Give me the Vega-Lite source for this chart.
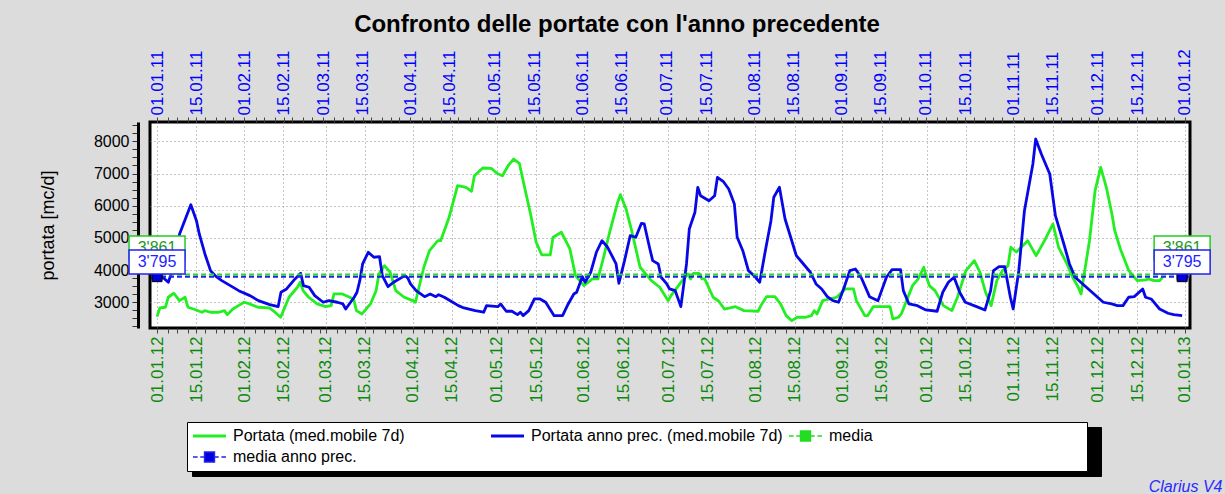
{
  "$schema": "https://vega.github.io/schema/vega-lite/v6.json",
  "width": 1040,
  "height": 206,
  "autosize": {"type": "none"},
  "padding": {"left": 150, "top": 122, "right": 35, "bottom": 166},
  "background": "#dcdcdc",
  "config": {
    "view": {"fill": "white", "stroke": "black", "strokeWidth": 3},
    "font": "Liberation Sans"
  },
  "title": {
    "text": "Confronto delle portate con l'anno precedente",
    "font": "Liberation Sans",
    "fontSize": 24,
    "fontWeight": "bold",
    "color": "black",
    "anchor": "middle",
    "dx": -53,
    "offset": 12
  },
  "datasets": {
    "anno": [
      {"date": "2012-01-01", "value": 2553}, {"date": "2012-01-02", "value": 2823}, {"date": "2012-01-04", "value": 2845}, {"date": "2012-01-05", "value": 3155},
      {"date": "2012-01-07", "value": 3280}, {"date": "2012-01-09", "value": 3050}, {"date": "2012-01-11", "value": 3155}, {"date": "2012-01-12", "value": 2845},
      {"date": "2012-01-14", "value": 2790}, {"date": "2012-01-17", "value": 2690}, {"date": "2012-01-18", "value": 2740}, {"date": "2012-01-20", "value": 2690},
      {"date": "2012-01-23", "value": 2690}, {"date": "2012-01-25", "value": 2740}, {"date": "2012-01-26", "value": 2615}, {"date": "2012-01-28", "value": 2790},
      {"date": "2012-01-30", "value": 2895}, {"date": "2012-02-01", "value": 3000}, {"date": "2012-02-03", "value": 2947}, {"date": "2012-02-06", "value": 2845},
      {"date": "2012-02-10", "value": 2823}, {"date": "2012-02-12", "value": 2690}, {"date": "2012-02-14", "value": 2534}, {"date": "2012-02-15", "value": 2740},
      {"date": "2012-02-17", "value": 3155}, {"date": "2012-02-20", "value": 3466}, {"date": "2012-02-21", "value": 3621}, {"date": "2012-02-22", "value": 3360},
      {"date": "2012-02-24", "value": 3155}, {"date": "2012-02-27", "value": 2947}, {"date": "2012-03-01", "value": 2863}, {"date": "2012-03-03", "value": 2895},
      {"date": "2012-03-04", "value": 3258}, {"date": "2012-03-07", "value": 3258}, {"date": "2012-03-11", "value": 3102}, {"date": "2012-03-12", "value": 2740},
      {"date": "2012-03-14", "value": 2637}, {"date": "2012-03-17", "value": 2947}, {"date": "2012-03-19", "value": 3360}, {"date": "2012-03-20", "value": 3879},
      {"date": "2012-03-22", "value": 4137}, {"date": "2012-03-24", "value": 3932}, {"date": "2012-03-26", "value": 3360}, {"date": "2012-03-29", "value": 3155},
      {"date": "2012-04-01", "value": 3050}, {"date": "2012-04-02", "value": 3000}, {"date": "2012-04-05", "value": 4087}, {"date": "2012-04-07", "value": 4602},
      {"date": "2012-04-10", "value": 4913}, {"date": "2012-04-11", "value": 4913}, {"date": "2012-04-14", "value": 5640}, {"date": "2012-04-17", "value": 6621},
      {"date": "2012-04-20", "value": 6571}, {"date": "2012-04-22", "value": 6447}, {"date": "2012-04-23", "value": 6932}, {"date": "2012-04-26", "value": 7171},
      {"date": "2012-04-29", "value": 7161}, {"date": "2012-05-01", "value": 7006}, {"date": "2012-05-03", "value": 6932}, {"date": "2012-05-05", "value": 7242},
      {"date": "2012-05-07", "value": 7450}, {"date": "2012-05-09", "value": 7317}, {"date": "2012-05-11", "value": 6519}, {"date": "2012-05-13", "value": 5742},
      {"date": "2012-05-15", "value": 4863}, {"date": "2012-05-17", "value": 4469}, {"date": "2012-05-20", "value": 4469}, {"date": "2012-05-21", "value": 5019},
      {"date": "2012-05-24", "value": 5174}, {"date": "2012-05-27", "value": 4655}, {"date": "2012-05-29", "value": 3826}, {"date": "2012-06-01", "value": 3516},
      {"date": "2012-06-04", "value": 3724}, {"date": "2012-06-06", "value": 3724}, {"date": "2012-06-08", "value": 4398}, {"date": "2012-06-10", "value": 5121},
      {"date": "2012-06-13", "value": 6106}, {"date": "2012-06-14", "value": 6342}, {"date": "2012-06-16", "value": 5898}, {"date": "2012-06-18", "value": 5224},
      {"date": "2012-06-21", "value": 4087}, {"date": "2012-06-25", "value": 3671}, {"date": "2012-06-28", "value": 3466}, {"date": "2012-07-01", "value": 3050},
      {"date": "2012-07-02", "value": 3205}, {"date": "2012-07-06", "value": 3671}, {"date": "2012-07-08", "value": 3879}, {"date": "2012-07-09", "value": 3724},
      {"date": "2012-07-10", "value": 3900}, {"date": "2012-07-12", "value": 3900}, {"date": "2012-07-13", "value": 3724}, {"date": "2012-07-14", "value": 3724},
      {"date": "2012-07-17", "value": 3155}, {"date": "2012-07-19", "value": 3031}, {"date": "2012-07-21", "value": 2790}, {"date": "2012-07-23", "value": 2823},
      {"date": "2012-07-25", "value": 2863}, {"date": "2012-07-28", "value": 2740}, {"date": "2012-08-02", "value": 2720}, {"date": "2012-08-03", "value": 2895},
      {"date": "2012-08-05", "value": 3174}, {"date": "2012-08-08", "value": 3174}, {"date": "2012-08-10", "value": 2947}, {"date": "2012-08-12", "value": 2584},
      {"date": "2012-08-14", "value": 2429}, {"date": "2012-08-16", "value": 2534}, {"date": "2012-08-19", "value": 2534}, {"date": "2012-08-21", "value": 2584},
      {"date": "2012-08-22", "value": 2740}, {"date": "2012-08-23", "value": 2637}, {"date": "2012-08-25", "value": 3050}, {"date": "2012-08-30", "value": 3155},
      {"date": "2012-09-02", "value": 3413}, {"date": "2012-09-05", "value": 3413}, {"date": "2012-09-06", "value": 3050}, {"date": "2012-09-09", "value": 2584},
      {"date": "2012-09-10", "value": 2584}, {"date": "2012-09-12", "value": 2863}, {"date": "2012-09-18", "value": 2863}, {"date": "2012-09-19", "value": 2481},
      {"date": "2012-09-21", "value": 2534}, {"date": "2012-09-22", "value": 2637}, {"date": "2012-09-26", "value": 3516}, {"date": "2012-09-28", "value": 3724},
      {"date": "2012-09-30", "value": 4087}, {"date": "2012-10-01", "value": 3776}, {"date": "2012-10-02", "value": 3516}, {"date": "2012-10-04", "value": 3360},
      {"date": "2012-10-07", "value": 2895}, {"date": "2012-10-10", "value": 2740}, {"date": "2012-10-12", "value": 3155}, {"date": "2012-10-15", "value": 3981},
      {"date": "2012-10-18", "value": 4292}, {"date": "2012-10-20", "value": 3932}, {"date": "2012-10-22", "value": 3311}, {"date": "2012-10-24", "value": 2895},
      {"date": "2012-10-26", "value": 3671}, {"date": "2012-10-28", "value": 3981}, {"date": "2012-10-30", "value": 4137}, {"date": "2012-10-31", "value": 4708},
      {"date": "2012-11-02", "value": 4562}, {"date": "2012-11-06", "value": 4913}, {"date": "2012-11-09", "value": 4447}, {"date": "2012-11-12", "value": 4913},
      {"date": "2012-11-15", "value": 5432}, {"date": "2012-11-17", "value": 4708}, {"date": "2012-11-20", "value": 4190}, {"date": "2012-11-22", "value": 3776},
      {"date": "2012-11-24", "value": 3466}, {"date": "2012-11-25", "value": 3258}, {"date": "2012-11-28", "value": 4913}, {"date": "2012-11-30", "value": 6466},
      {"date": "2012-12-02", "value": 7192}, {"date": "2012-12-04", "value": 6571}, {"date": "2012-12-06", "value": 5742}, {"date": "2012-12-07", "value": 5224},
      {"date": "2012-12-09", "value": 4655}, {"date": "2012-12-12", "value": 3981}, {"date": "2012-12-15", "value": 3671}, {"date": "2012-12-18", "value": 3694},
      {"date": "2012-12-19", "value": 3724}, {"date": "2012-12-21", "value": 3671}, {"date": "2012-12-23", "value": 3671}, {"date": "2012-12-24", "value": 3776}
    ],
    "prec": [
      {"date": "2011-01-01", "value": 3780}, {"date": "2011-01-03", "value": 3776}, {"date": "2011-01-05", "value": 3621}, {"date": "2011-01-06", "value": 3879},
      {"date": "2011-01-09", "value": 5121}, {"date": "2011-01-13", "value": 6031}, {"date": "2011-01-15", "value": 5534}, {"date": "2011-01-16", "value": 5121},
      {"date": "2011-01-18", "value": 4500}, {"date": "2011-01-20", "value": 3981}, {"date": "2011-01-22", "value": 3795}, {"date": "2011-01-24", "value": 3671},
      {"date": "2011-01-27", "value": 3516}, {"date": "2011-01-30", "value": 3360}, {"date": "2011-02-03", "value": 3205}, {"date": "2011-02-06", "value": 3050},
      {"date": "2011-02-10", "value": 2925}, {"date": "2011-02-13", "value": 2863}, {"date": "2011-02-14", "value": 3311}, {"date": "2011-02-16", "value": 3413},
      {"date": "2011-02-19", "value": 3724}, {"date": "2011-02-21", "value": 3900}, {"date": "2011-02-22", "value": 3516}, {"date": "2011-02-24", "value": 3466},
      {"date": "2011-02-26", "value": 3205}, {"date": "2011-03-01", "value": 3000}, {"date": "2011-03-03", "value": 3050}, {"date": "2011-03-06", "value": 3000},
      {"date": "2011-03-08", "value": 2947}, {"date": "2011-03-09", "value": 2790}, {"date": "2011-03-12", "value": 3155}, {"date": "2011-03-13", "value": 3311},
      {"date": "2011-03-14", "value": 3671}, {"date": "2011-03-15", "value": 4190}, {"date": "2011-03-17", "value": 4553}, {"date": "2011-03-19", "value": 4398},
      {"date": "2011-03-21", "value": 4416}, {"date": "2011-03-22", "value": 3826}, {"date": "2011-03-24", "value": 3484}, {"date": "2011-03-26", "value": 3621},
      {"date": "2011-03-30", "value": 3826}, {"date": "2011-03-31", "value": 3755}, {"date": "2011-04-01", "value": 3568}, {"date": "2011-04-03", "value": 3360},
      {"date": "2011-04-06", "value": 3174}, {"date": "2011-04-08", "value": 3258}, {"date": "2011-04-10", "value": 3174}, {"date": "2011-04-11", "value": 3236},
      {"date": "2011-04-13", "value": 3155}, {"date": "2011-04-16", "value": 3000}, {"date": "2011-04-18", "value": 2895}, {"date": "2011-04-20", "value": 2823},
      {"date": "2011-04-24", "value": 2740}, {"date": "2011-04-27", "value": 2690}, {"date": "2011-04-28", "value": 2895}, {"date": "2011-05-02", "value": 2863},
      {"date": "2011-05-03", "value": 2947}, {"date": "2011-05-05", "value": 2720}, {"date": "2011-05-07", "value": 2720}, {"date": "2011-05-09", "value": 2615},
      {"date": "2011-05-10", "value": 2690}, {"date": "2011-05-11", "value": 2584}, {"date": "2011-05-13", "value": 2740}, {"date": "2011-05-15", "value": 3102},
      {"date": "2011-05-17", "value": 3102}, {"date": "2011-05-19", "value": 3000}, {"date": "2011-05-22", "value": 2584}, {"date": "2011-05-25", "value": 2584},
      {"date": "2011-05-27", "value": 2947}, {"date": "2011-05-29", "value": 3258}, {"date": "2011-05-30", "value": 3311}, {"date": "2011-06-01", "value": 3795},
      {"date": "2011-06-02", "value": 3621}, {"date": "2011-06-04", "value": 3932}, {"date": "2011-06-06", "value": 4553}, {"date": "2011-06-08", "value": 4913},
      {"date": "2011-06-10", "value": 4708}, {"date": "2011-06-13", "value": 4190}, {"date": "2011-06-14", "value": 3590}, {"date": "2011-06-16", "value": 4292},
      {"date": "2011-06-18", "value": 5068}, {"date": "2011-06-20", "value": 5019}, {"date": "2011-06-22", "value": 5453}, {"date": "2011-06-23", "value": 5432},
      {"date": "2011-06-25", "value": 4655}, {"date": "2011-06-26", "value": 4292}, {"date": "2011-06-28", "value": 4190}, {"date": "2011-06-29", "value": 3776},
      {"date": "2011-07-01", "value": 3568}, {"date": "2011-07-02", "value": 3413}, {"date": "2011-07-04", "value": 3360}, {"date": "2011-07-06", "value": 2863},
      {"date": "2011-07-08", "value": 4190}, {"date": "2011-07-09", "value": 5276}, {"date": "2011-07-11", "value": 5795}, {"date": "2011-07-12", "value": 6571},
      {"date": "2011-07-13", "value": 6311}, {"date": "2011-07-16", "value": 6155}, {"date": "2011-07-18", "value": 6311}, {"date": "2011-07-19", "value": 6882},
      {"date": "2011-07-21", "value": 6758}, {"date": "2011-07-23", "value": 6519}, {"date": "2011-07-25", "value": 6053}, {"date": "2011-07-26", "value": 5019},
      {"date": "2011-07-28", "value": 4602}, {"date": "2011-07-30", "value": 3981}, {"date": "2011-08-01", "value": 3826}, {"date": "2011-08-03", "value": 3621},
      {"date": "2011-08-05", "value": 4602}, {"date": "2011-08-07", "value": 5534}, {"date": "2011-08-08", "value": 6261}, {"date": "2011-08-10", "value": 6571},
      {"date": "2011-08-12", "value": 5587}, {"date": "2011-08-14", "value": 5019}, {"date": "2011-08-16", "value": 4447}, {"date": "2011-08-18", "value": 4242},
      {"date": "2011-08-21", "value": 3932}, {"date": "2011-08-23", "value": 3568}, {"date": "2011-08-25", "value": 3413}, {"date": "2011-08-27", "value": 3174},
      {"date": "2011-08-29", "value": 3050}, {"date": "2011-08-31", "value": 3000}, {"date": "2011-09-02", "value": 3466}, {"date": "2011-09-04", "value": 3981},
      {"date": "2011-09-06", "value": 4034}, {"date": "2011-09-08", "value": 3776}, {"date": "2011-09-11", "value": 3174}, {"date": "2011-09-14", "value": 3050},
      {"date": "2011-09-17", "value": 3776}, {"date": "2011-09-19", "value": 4012}, {"date": "2011-09-22", "value": 4012}, {"date": "2011-09-23", "value": 3360},
      {"date": "2011-09-25", "value": 2947}, {"date": "2011-09-28", "value": 2895}, {"date": "2011-10-01", "value": 2761}, {"date": "2011-10-05", "value": 2720},
      {"date": "2011-10-07", "value": 3311}, {"date": "2011-10-09", "value": 3621}, {"date": "2011-10-11", "value": 3776}, {"date": "2011-10-13", "value": 3311},
      {"date": "2011-10-15", "value": 3000}, {"date": "2011-10-19", "value": 2863}, {"date": "2011-10-22", "value": 2761}, {"date": "2011-10-24", "value": 3360},
      {"date": "2011-10-25", "value": 3981}, {"date": "2011-10-27", "value": 4106}, {"date": "2011-10-29", "value": 4106}, {"date": "2011-10-31", "value": 3155},
      {"date": "2011-11-01", "value": 2790}, {"date": "2011-11-03", "value": 3981}, {"date": "2011-11-05", "value": 5845}, {"date": "2011-11-08", "value": 7295},
      {"date": "2011-11-09", "value": 8071}, {"date": "2011-11-11", "value": 7605}, {"date": "2011-11-14", "value": 6984}, {"date": "2011-11-16", "value": 5689},
      {"date": "2011-11-19", "value": 4810}, {"date": "2011-11-21", "value": 4190}, {"date": "2011-11-23", "value": 3776}, {"date": "2011-11-27", "value": 3466},
      {"date": "2011-12-01", "value": 3155}, {"date": "2011-12-03", "value": 3000}, {"date": "2011-12-06", "value": 2947}, {"date": "2011-12-08", "value": 2895},
      {"date": "2011-12-10", "value": 2895}, {"date": "2011-12-12", "value": 3155}, {"date": "2011-12-14", "value": 3174}, {"date": "2011-12-17", "value": 3413},
      {"date": "2011-12-18", "value": 3155}, {"date": "2011-12-20", "value": 3102}, {"date": "2011-12-23", "value": 2790}, {"date": "2011-12-26", "value": 2658},
      {"date": "2011-12-28", "value": 2615}, {"date": "2011-12-31", "value": 2584}
    ],
    "medie": [
      {"serie": "media", "valore": 3861},
      {"serie": "media anno prec.", "valore": 3795}
    ],
    "marcatori": [
      {"serie": "media", "date": "2011-01-01", "valore": 3861, "etichetta": "3'861"},
      {"serie": "media", "date": "2011-12-31", "valore": 3861, "etichetta": "3'861"},
      {"serie": "media anno prec.", "date": "2011-01-01", "valore": 3795, "etichetta": "3'795"},
      {"serie": "media anno prec.", "date": "2011-12-31", "valore": 3795, "etichetta": "3'795"}
    ]
  },
  "layer": [
    {
      "data": {"name": "anno"},
      "mark": {"type": "line", "strokeWidth": 2.8, "strokeJoin": "round"},
      "encoding": {
        "x": {
          "field": "date", "type": "temporal",
          "scale": {"domain": [{"year": 2011, "month": 12, "date": 29, "hours": 12}, {"year": 2013, "month": 1, "date": 2, "hours": 19}], "nice": false},
          "axis": {
            "orient": "bottom",
            "tickCount": 300,
            "values": [
              {"year":2012,"month":1,"date":1},{"year":2012,"month":1,"date":5},{"year":2012,"month":1,"date":8},{"year":2012,"month":1,"date":12},{"year":2012,"month":1,"date":15},{"year":2012,"month":1,"date":18},{"year":2012,"month":1,"date":22},{"year":2012,"month":1,"date":25},{"year":2012,"month":1,"date":28},
              {"year":2012,"month":2,"date":1},{"year":2012,"month":2,"date":5},{"year":2012,"month":2,"date":8},{"year":2012,"month":2,"date":12},{"year":2012,"month":2,"date":15},{"year":2012,"month":2,"date":18},{"year":2012,"month":2,"date":22},{"year":2012,"month":2,"date":25},{"year":2012,"month":2,"date":28},
              {"year":2012,"month":3,"date":1},{"year":2012,"month":3,"date":5},{"year":2012,"month":3,"date":8},{"year":2012,"month":3,"date":12},{"year":2012,"month":3,"date":15},{"year":2012,"month":3,"date":18},{"year":2012,"month":3,"date":22},{"year":2012,"month":3,"date":25},{"year":2012,"month":3,"date":28},
              {"year":2012,"month":4,"date":1},{"year":2012,"month":4,"date":5},{"year":2012,"month":4,"date":8},{"year":2012,"month":4,"date":12},{"year":2012,"month":4,"date":15},{"year":2012,"month":4,"date":18},{"year":2012,"month":4,"date":22},{"year":2012,"month":4,"date":25},{"year":2012,"month":4,"date":28},
              {"year":2012,"month":5,"date":1},{"year":2012,"month":5,"date":5},{"year":2012,"month":5,"date":8},{"year":2012,"month":5,"date":12},{"year":2012,"month":5,"date":15},{"year":2012,"month":5,"date":18},{"year":2012,"month":5,"date":22},{"year":2012,"month":5,"date":25},{"year":2012,"month":5,"date":28},
              {"year":2012,"month":6,"date":1},{"year":2012,"month":6,"date":5},{"year":2012,"month":6,"date":8},{"year":2012,"month":6,"date":12},{"year":2012,"month":6,"date":15},{"year":2012,"month":6,"date":18},{"year":2012,"month":6,"date":22},{"year":2012,"month":6,"date":25},{"year":2012,"month":6,"date":28},
              {"year":2012,"month":7,"date":1},{"year":2012,"month":7,"date":5},{"year":2012,"month":7,"date":8},{"year":2012,"month":7,"date":12},{"year":2012,"month":7,"date":15},{"year":2012,"month":7,"date":18},{"year":2012,"month":7,"date":22},{"year":2012,"month":7,"date":25},{"year":2012,"month":7,"date":28},
              {"year":2012,"month":8,"date":1},{"year":2012,"month":8,"date":5},{"year":2012,"month":8,"date":8},{"year":2012,"month":8,"date":12},{"year":2012,"month":8,"date":15},{"year":2012,"month":8,"date":18},{"year":2012,"month":8,"date":22},{"year":2012,"month":8,"date":25},{"year":2012,"month":8,"date":28},
              {"year":2012,"month":9,"date":1},{"year":2012,"month":9,"date":5},{"year":2012,"month":9,"date":8},{"year":2012,"month":9,"date":12},{"year":2012,"month":9,"date":15},{"year":2012,"month":9,"date":18},{"year":2012,"month":9,"date":22},{"year":2012,"month":9,"date":25},{"year":2012,"month":9,"date":28},
              {"year":2012,"month":10,"date":1},{"year":2012,"month":10,"date":5},{"year":2012,"month":10,"date":8},{"year":2012,"month":10,"date":12},{"year":2012,"month":10,"date":15},{"year":2012,"month":10,"date":18},{"year":2012,"month":10,"date":22},{"year":2012,"month":10,"date":25},{"year":2012,"month":10,"date":28},
              {"year":2012,"month":11,"date":1},{"year":2012,"month":11,"date":5},{"year":2012,"month":11,"date":8},{"year":2012,"month":11,"date":12},{"year":2012,"month":11,"date":15},{"year":2012,"month":11,"date":18},{"year":2012,"month":11,"date":22},{"year":2012,"month":11,"date":25},{"year":2012,"month":11,"date":28},
              {"year":2012,"month":12,"date":1},{"year":2012,"month":12,"date":5},{"year":2012,"month":12,"date":8},{"year":2012,"month":12,"date":12},{"year":2012,"month":12,"date":15},{"year":2012,"month":12,"date":18},{"year":2012,"month":12,"date":22},{"year":2012,"month":12,"date":25},{"year":2012,"month":12,"date":28},
              {"year":2013,"month":1,"date":1}
            ],
            "labelExpr": "date(datum.value) == 1 || date(datum.value) == 15 ? timeFormat(datum.value, '%d.%m.%y') : ''",
            "labelAngle": 270,
            "labelColor": "#0a8a0a",
            "labelFont": "Liberation Sans",
            "labelFontSize": 17,
            "labelPadding": 3,
            "labelOverlap": false,
            "labelBound": false,
            "labelFlush": false,
            "tickColor": "#444444",
            "tickSize": 5,
            "domain": false,
            "grid": true,
            "gridColor": "#8a8a8a",
            "gridDash": [1, 3],
            "gridOpacity": {"condition": {"test": "date(datum.value) == 1 || date(datum.value) == 15", "value": 1}, "value": 0},
            "title": "Clarius V4",
            "titleFont": "Liberation Sans",
            "titleFontSize": 16,
            "titleFontStyle": "italic",
            "titleFontWeight": "normal",
            "titleColor": "#2a2aff",
            "titleAlign": "right",
            "titleAngle": 0,
            "titleBaseline": "alphabetic",
            "titleX": 1072,
            "titleY": 163
          }
        },
        "y": {
          "field": "value", "type": "quantitative",
          "scale": {"domain": [2200, 8600], "nice": false, "zero": false},
          "axis": {
            "tickCount": 100,
            "values": [2250, 2500, 2750, 3000, 3250, 3500, 3750, 4000, 4250, 4500, 4750, 5000, 5250, 5500, 5750, 6000, 6250, 6500, 6750, 7000, 7250, 7500, 7750, 8000, 8250, 8500],
            "format": "d",
            "labelExpr": "datum.value % 1000 === 0 ? datum.label : ''",
            "labelOverlap": false,
            "labelBound": false,
            "labelFlush": false,
            "offset": 12,
            "domain": true,
            "domainColor": "black",
            "domainWidth": 3,
            "tickColor": "#333333",
            "tickSize": 6,
            "labelFont": "Liberation Sans",
            "labelFontSize": 16,
            "labelColor": "black",
            "labelPadding": 3,
            "grid": true,
            "gridColor": "#8a8a8a",
            "gridDash": [1, 3],
            "gridOpacity": {"condition": {"test": "datum.value % 1000 === 0", "value": 1}, "value": 0},
            "title": "portata [mc/d]",
            "titleFont": "Liberation Sans",
            "titleFontSize": 18,
            "titleFontWeight": "normal",
            "titleColor": "black",
            "titlePadding": 36
          }
        },
        "color": {
          "datum": "Portata (med.mobile 7d)",
          "type": "nominal",
          "scale": {
            "domain": ["Portata (med.mobile 7d)", "Portata anno prec. (med.mobile 7d)", "media", "media anno prec."],
            "range": ["#22ee22", "#0808e6", "#22dd22", "#2222ee"]
          },
          "legend": {
            "orient": "none",
            "legendX": 37,
            "legendY": 300,
            "zindex": 1,
            "direction": "horizontal",
            "columns": 3,
            "gridAlign": "all",
            "columnPadding": 0,
            "rowPadding": 5,
            "padding": 6,
            "fillColor": "white",
            "strokeColor": "black",
            "labelFont": "Liberation Sans",
            "labelFontSize": 16,
            "labelColor": "black",
            "labelLimit": 400,
            "labelOffset": 15.5,
            "symbolOffset": 8.5,
            "symbolSize": 1089,
            "symbolStrokeWidth": 3,
            "title": null,
            "encode": {
              "symbols": {
                "update": {
                  "shape": {"signal": "datum.value === 'media' || datum.value === 'media anno prec.' ? 'M-1,0H-0.72M-0.56,0H-0.34M0.34,0H0.56M0.72,0H1M-0.3,-0.3H0.3V0.3H-0.3ZM16.5,0' : 'stroke'"},
                  "strokeWidth": {"signal": "datum.value === 'media' || datum.value === 'media anno prec.' ? 1.5 : 3"},
                  "fill": {"signal": "datum.value === 'media' ? '#22dd22' : datum.value === 'media anno prec.' ? '#0000dd' : 'transparent'"},
                  "strokeDash": {"value": [1, 0]}
                }
              }
            }
          }
        },
        "opacity": {
          "datum": "Portata (med.mobile 7d)\u200b",
          "type": "ordinal",
          "scale": {
            "domain": ["Portata (med.mobile 7d)\u200b", "Portata anno prec. (med.mobile 7d)\u200b", "media\u200b", "media anno prec.\u200b"],
            "range": [1, 1, 1, 1]
          },
          "legend": {
            "orient": "none",
            "legendX": 42,
            "legendY": 305,
            "zindex": 0,
            "direction": "horizontal",
            "columns": 3,
            "gridAlign": "all",
            "columnPadding": 0,
            "rowPadding": 5,
            "padding": 6,
            "fillColor": "black",
            "strokeColor": "black",
            "labelFont": "Liberation Sans",
            "labelFontSize": 16,
            "labelColor": "black",
            "labelOpacity": 0,
            "labelLimit": 400,
            "labelOffset": 15.5,
            "symbolOffset": 8.5,
            "symbolSize": 1089,
            "symbolStrokeWidth": 3,
            "symbolFillColor": "black",
            "symbolStrokeColor": "black",
            "title": null,
            "encode": {
              "symbols": {
                "update": {
                  "shape": {"value": "M-1,0H1M16.5,0"},
                  "strokeWidth": {"signal": "datum.value === 'media' || datum.value === 'media anno prec.' ? 1.5 : 3"},
                  "stroke": {"value": "black"},
                  "fill": {"value": "black"}
                }
              }
            }
          }
        }
      }
    },
    {
      "layer": [
        {
          "data": {"name": "prec"},
          "mark": {"type": "line", "strokeWidth": 2.8, "strokeJoin": "round"},
          "encoding": {
            "x": {
              "field": "date", "type": "temporal",
              "scale": {"domain": [{"year": 2010, "month": 12, "date": 29, "hours": 12}, {"year": 2012, "month": 1, "date": 2, "hours": 19}], "nice": false},
              "axis": {
                "orient": "top",
                "tickCount": 300,
                "values": [
                  {"year":2011,"month":1,"date":1},{"year":2011,"month":1,"date":5},{"year":2011,"month":1,"date":8},{"year":2011,"month":1,"date":12},{"year":2011,"month":1,"date":15},{"year":2011,"month":1,"date":18},{"year":2011,"month":1,"date":22},{"year":2011,"month":1,"date":25},{"year":2011,"month":1,"date":28},
                  {"year":2011,"month":2,"date":1},{"year":2011,"month":2,"date":5},{"year":2011,"month":2,"date":8},{"year":2011,"month":2,"date":12},{"year":2011,"month":2,"date":15},{"year":2011,"month":2,"date":18},{"year":2011,"month":2,"date":22},{"year":2011,"month":2,"date":25},
                  {"year":2011,"month":3,"date":1},{"year":2011,"month":3,"date":5},{"year":2011,"month":3,"date":8},{"year":2011,"month":3,"date":12},{"year":2011,"month":3,"date":15},{"year":2011,"month":3,"date":18},{"year":2011,"month":3,"date":22},{"year":2011,"month":3,"date":25},{"year":2011,"month":3,"date":28},
                  {"year":2011,"month":4,"date":1},{"year":2011,"month":4,"date":5},{"year":2011,"month":4,"date":8},{"year":2011,"month":4,"date":12},{"year":2011,"month":4,"date":15},{"year":2011,"month":4,"date":18},{"year":2011,"month":4,"date":22},{"year":2011,"month":4,"date":25},{"year":2011,"month":4,"date":28},
                  {"year":2011,"month":5,"date":1},{"year":2011,"month":5,"date":5},{"year":2011,"month":5,"date":8},{"year":2011,"month":5,"date":12},{"year":2011,"month":5,"date":15},{"year":2011,"month":5,"date":18},{"year":2011,"month":5,"date":22},{"year":2011,"month":5,"date":25},{"year":2011,"month":5,"date":28},
                  {"year":2011,"month":6,"date":1},{"year":2011,"month":6,"date":5},{"year":2011,"month":6,"date":8},{"year":2011,"month":6,"date":12},{"year":2011,"month":6,"date":15},{"year":2011,"month":6,"date":18},{"year":2011,"month":6,"date":22},{"year":2011,"month":6,"date":25},{"year":2011,"month":6,"date":28},
                  {"year":2011,"month":7,"date":1},{"year":2011,"month":7,"date":5},{"year":2011,"month":7,"date":8},{"year":2011,"month":7,"date":12},{"year":2011,"month":7,"date":15},{"year":2011,"month":7,"date":18},{"year":2011,"month":7,"date":22},{"year":2011,"month":7,"date":25},{"year":2011,"month":7,"date":28},
                  {"year":2011,"month":8,"date":1},{"year":2011,"month":8,"date":5},{"year":2011,"month":8,"date":8},{"year":2011,"month":8,"date":12},{"year":2011,"month":8,"date":15},{"year":2011,"month":8,"date":18},{"year":2011,"month":8,"date":22},{"year":2011,"month":8,"date":25},{"year":2011,"month":8,"date":28},
                  {"year":2011,"month":9,"date":1},{"year":2011,"month":9,"date":5},{"year":2011,"month":9,"date":8},{"year":2011,"month":9,"date":12},{"year":2011,"month":9,"date":15},{"year":2011,"month":9,"date":18},{"year":2011,"month":9,"date":22},{"year":2011,"month":9,"date":25},{"year":2011,"month":9,"date":28},
                  {"year":2011,"month":10,"date":1},{"year":2011,"month":10,"date":5},{"year":2011,"month":10,"date":8},{"year":2011,"month":10,"date":12},{"year":2011,"month":10,"date":15},{"year":2011,"month":10,"date":18},{"year":2011,"month":10,"date":22},{"year":2011,"month":10,"date":25},{"year":2011,"month":10,"date":28},
                  {"year":2011,"month":11,"date":1},{"year":2011,"month":11,"date":5},{"year":2011,"month":11,"date":8},{"year":2011,"month":11,"date":12},{"year":2011,"month":11,"date":15},{"year":2011,"month":11,"date":18},{"year":2011,"month":11,"date":22},{"year":2011,"month":11,"date":25},{"year":2011,"month":11,"date":28},
                  {"year":2011,"month":12,"date":1},{"year":2011,"month":12,"date":5},{"year":2011,"month":12,"date":8},{"year":2011,"month":12,"date":12},{"year":2011,"month":12,"date":15},{"year":2011,"month":12,"date":18},{"year":2011,"month":12,"date":22},{"year":2011,"month":12,"date":25},{"year":2011,"month":12,"date":28},
                  {"year":2012,"month":1,"date":1}
                ],
                "labelExpr": "date(datum.value) == 1 || date(datum.value) == 15 ? timeFormat(datum.value, '%d.%m.%y') : ''",
                "labelAngle": 270,
                "labelColor": "#0000ff",
                "labelFont": "Liberation Sans",
                "labelFontSize": 17,
                "labelPadding": 2,
                "labelOverlap": false,
                "labelBound": false,
                "labelFlush": false,
                "tickColor": "#444444",
                "tickSize": 5,
                "domain": false,
                "grid": false,
                "title": null
              }
            },
            "y": {"field": "value", "type": "quantitative"},
            "color": {"datum": "Portata anno prec. (med.mobile 7d)", "type": "nominal", "legend": null}
          }
        },
        {
          "data": {"name": "medie"},
          "mark": {"type": "rule", "strokeWidth": 2, "strokeDash": [5, 3]},
          "encoding": {
            "y": {"field": "valore", "type": "quantitative"},
            "color": {"field": "serie", "type": "nominal", "legend": null}
          }
        },
        {
          "data": {"name": "marcatori"},
          "transform": [{"filter": "datum.serie === 'media'"}],
          "layer": [
            {"mark": {"type": "point", "shape": "square", "size": 100, "filled": true, "fill": "#22dd22", "stroke": "black", "strokeWidth": 1, "opacity": 1}},
            {"mark": {"type": "point", "shape": "M-1,-0.43H1V0.43H-1Z", "size": 3136, "filled": true, "fill": "white", "stroke": "#22cc22", "strokeWidth": 1.5, "opacity": 1, "yOffset": -26.6}},
            {"mark": {"type": "text", "font": "Liberation Sans", "fontSize": 16, "fill": "#229922", "align": "center", "baseline": "middle", "yOffset": -26.6}, "encoding": {"text": {"field": "etichetta"}}}
          ],
          "encoding": {
            "x": {"field": "date", "type": "temporal"},
            "y": {"field": "valore", "type": "quantitative"}
          }
        },
        {
          "data": {"name": "marcatori"},
          "transform": [{"filter": "datum.serie === 'media anno prec.'"}],
          "layer": [
            {"mark": {"type": "point", "shape": "square", "size": 100, "filled": true, "fill": "#0000dd", "stroke": "black", "strokeWidth": 1, "opacity": 1}},
            {"mark": {"type": "point", "shape": "M-1,-0.43H1V0.43H-1Z", "size": 3136, "filled": true, "fill": "white", "stroke": "#2222ee", "strokeWidth": 1.5, "opacity": 1, "yOffset": -14.7}},
            {"mark": {"type": "text", "font": "Liberation Sans", "fontSize": 16, "fill": "#2222ff", "align": "center", "baseline": "middle", "yOffset": -14.7}, "encoding": {"text": {"field": "etichetta"}}}
          ],
          "encoding": {
            "x": {"field": "date", "type": "temporal"},
            "y": {"field": "valore", "type": "quantitative"}
          }
        }
      ]
    }
  ],
  "resolve": {"scale": {"x": "independent"}, "axis": {"x": "independent"}}
}
